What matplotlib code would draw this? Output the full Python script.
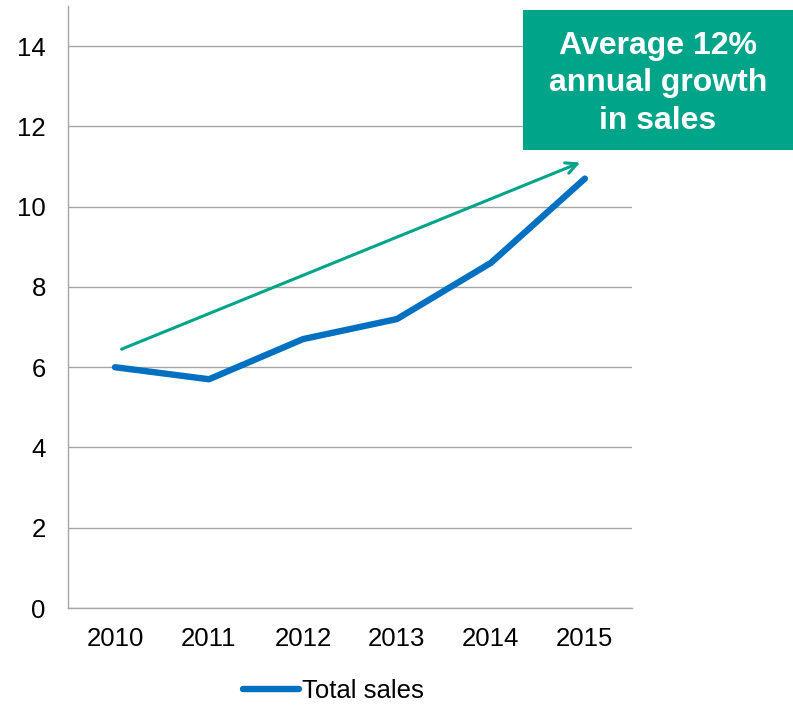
import matplotlib
matplotlib.use("Agg")
import matplotlib.pyplot as plt

plt.rcParams['font.family'] = ['Liberation Sans', 'DejaVu Sans']

years = ['2010', '2011', '2012', '2013', '2014', '2015']
sales = [6.0, 5.7, 6.7, 7.2, 8.6, 10.7]

# trend arrow ends (category index, value)
trend_start = (0.07, 6.45)
trend_end = (4.95, 11.1)

teal = '#00A488'
blue = '#0070C0'
grey = '#A6A6A6'

fig = plt.figure(figsize=(7.93, 7.07), dpi=100)
ax = fig.add_axes([0.0858, 0.140, 0.711, 0.8515])

x = list(range(len(years)))
ax.plot(x, sales, color=blue, lw=4.6, solid_capstyle='round',
        solid_joinstyle='round', label='Total sales', zorder=3)

ax.set_xlim(-0.5, len(years) - 0.5)
ax.set_ylim(0, 15)
ax.set_yticks(range(0, 15, 2))
ax.set_xticks(x)
ax.set_xticklabels(years)
ax.tick_params(axis='both', length=0, labelsize=18.5, colors='black')
ax.tick_params(axis='x', pad=14)
ax.tick_params(axis='y', pad=16)

ax.grid(axis='y', color=grey, lw=1.0)
ax.set_axisbelow(True)
for side in ['top', 'right']:
    ax.spines[side].set_visible(False)
for side in ['left', 'bottom']:
    ax.spines[side].set_color(grey)
    ax.spines[side].set_linewidth(1.0)

ax.annotate('', xy=trend_end, xytext=trend_start,
            arrowprops=dict(arrowstyle='->,head_length=0.8,head_width=0.4',
                            color=teal, lw=2.2, shrinkA=0, shrinkB=0))

# callout box
fig.patches.append(plt.Rectangle((0.6595, 0.788), 0.3405, 0.198,
                                 transform=fig.transFigure,
                                 facecolor=teal, edgecolor='none', zorder=5))
fig.text(0.8297, 0.882, 'Average 12%\nannual growth\nin sales',
         ha='center', va='center', color='white', fontsize=23,
         fontweight='bold', linespacing=1.32, zorder=6)

fig.legend(loc='center', bbox_to_anchor=(0.42, 0.022), frameon=False,
           fontsize=18.5, handlelength=2.2, handletextpad=0.1)

fig.savefig('out.png', dpi=100)
